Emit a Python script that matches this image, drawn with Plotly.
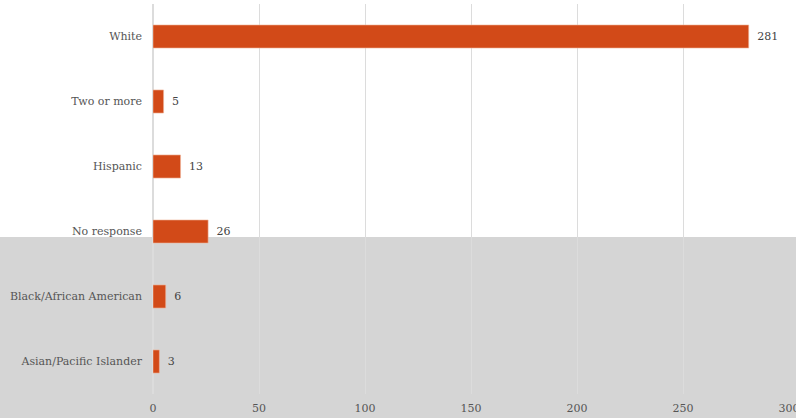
import plotly.graph_objects as go

# Respondents by race/ethnicity (top to bottom)
categories = ["White", "Two or more", "Hispanic", "No response",
              "Black/African American", "Asian/Pacific Islander"]
counts = [281, 5, 13, 26, 6, 3]
x_ticks = [0, 50, 100, 150, 200, 250, 300]

BAR_COLOR = "#D24A18"
TEXT_COLOR = "#555555"
FONT = "DejaVu Serif"

fig = go.Figure(
    go.Bar(
        x=counts,
        y=categories,
        orientation="h",
        marker=dict(color=BAR_COLOR, line=dict(color="#F0B8A0", width=0.6)),
        text=["\u2002" + str(v) for v in counts],
        textposition="outside",
        textfont=dict(family=FONT, size=11, color="#444444"),
        cliponaxis=False,
        hoverinfo="skip",
    )
)

# Gray band across the lower portion of the canvas
fig.add_shape(
    type="rect", xref="paper", yref="paper",
    x0=-0.25, x1=1.05, y0=-0.07, y1=0.4026,
    fillcolor="#d5d5d5", line=dict(width=0), layer="between",
)

fig.update_layout(
    width=796, height=418,
    margin=dict(l=153, r=7, t=4, b=24),
    paper_bgcolor="white", plot_bgcolor="white",
    bargap=0.645,
    showlegend=False,
    font=dict(family=FONT, size=11, color=TEXT_COLOR),
    xaxis=dict(
        range=[0, 300], tickvals=x_ticks, ticktext=[str(t) for t in x_ticks],
        showgrid=True, gridcolor="#dcdcdc", gridwidth=1,
        zeroline=True, zerolinecolor="#dcdcdc", showline=False,
        ticks="", ticklabelstandoff=6, ticklabeloverflow="allow",
        automargin=False,
        tickfont=dict(family=FONT, size=11, color=TEXT_COLOR),
    ),
    yaxis=dict(
        autorange="reversed", showgrid=False, zeroline=False, showline=False,
        ticks="", ticklabelstandoff=10, automargin=False,
        tickfont=dict(family=FONT, size=11, color=TEXT_COLOR),
    ),
)

fig.write_html("out.html")
